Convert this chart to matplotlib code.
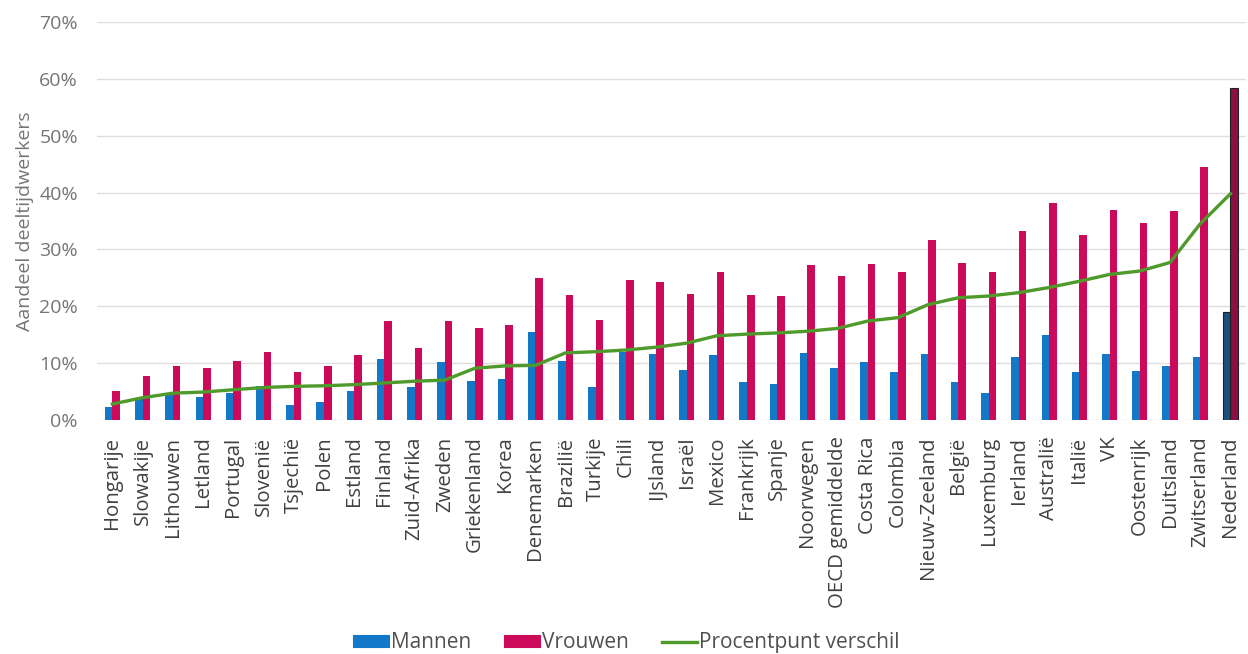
import numpy as np
import matplotlib.pyplot as plt
from matplotlib.ticker import PercentFormatter

plt.rcParams['font.family'] = ['Open Sans', 'DejaVu Sans']

countries = ["Hongarije", "Slowakije", "Lithouwen", "Letland", "Portugal", "Slovenië",
             "Tsjechië", "Polen", "Estland", "Finland", "Zuid-Afrika", "Zweden",
             "Griekenland", "Korea", "Denemarken", "Brazilië", "Turkije", "Chili",
             "IJsland", "Israël", "Mexico", "Frankrijk", "Spanje", "Noorwegen",
             "OECD gemiddelde", "Costa Rica", "Colombia", "Nieuw-Zeeland", "België",
             "Luxemburg", "Ierland", "Australië", "Italië", "VK", "Oostenrijk",
             "Duitsland", "Zwitserland", "Nederland"]

mannen = [2.2, 3.8, 4.4, 4.1, 4.7, 6.0, 2.6, 3.2, 5.0, 10.8, 5.7, 10.2,
          6.9, 7.2, 15.5, 10.4, 5.7, 11.9, 11.6, 8.8, 11.4, 6.7, 6.4, 11.7,
          9.2, 10.1, 8.4, 11.6, 6.6, 4.7, 11.0, 14.9, 8.4, 11.6, 8.6,
          9.5, 11.1, 19.0]

vrouwen = [5.0, 7.8, 9.4, 9.2, 10.4, 11.9, 8.5, 9.4, 11.5, 17.4, 12.6, 17.4,
           16.1, 16.7, 25.0, 21.9, 17.5, 24.7, 24.3, 22.1, 26.1, 21.9, 21.8, 27.3,
           25.3, 27.4, 26.1, 31.6, 27.7, 26.1, 33.2, 38.1, 32.5, 36.9, 34.7,
           36.7, 44.6, 58.5]

verschil = [2.8, 3.9, 4.7, 4.9, 5.3, 5.7, 5.9, 6.0, 6.2, 6.5, 6.8, 7.0,
            9.1, 9.5, 9.6, 11.8, 12.0, 12.3, 12.8, 13.5, 14.8, 15.1, 15.3, 15.6,
            16.1, 17.4, 18.0, 20.3, 21.5, 21.8, 22.4, 23.3, 24.4, 25.6, 26.2,
            27.7, 34.5, 39.8]

BLUE = "#1478c8"
RED = "#cc0a5a"
GREEN = "#4e9a2a"

fig, ax = plt.subplots(figsize=(12.48, 6.54), dpi=100)
fig.subplots_adjust(left=0.078, right=0.998, top=0.966, bottom=0.358)

x = np.arange(len(countries))
w = 0.25
# Nederland gets darker, outlined bars
blue_cols = [BLUE] * (len(x) - 1) + ["#1b4f7c"]
red_cols = [RED] * (len(x) - 1) + ["#8a0f45"]
edge = ["none"] * (len(x) - 1) + ["#222222"]

ax.bar(x - w / 2, mannen, w, color=blue_cols, edgecolor=edge, linewidth=0.8,
       label="Mannen", zorder=2)
ax.bar(x + w / 2, vrouwen, w, color=red_cols, edgecolor=edge, linewidth=0.8,
       label="Vrouwen", zorder=2)
ax.plot(x, verschil, color=GREEN, linewidth=2.4, label="Procentpunt verschil", zorder=3)

ax.set_xlim(-0.5, len(x) - 0.5)
ax.set_ylim(0, 70)
ax.set_yticks(range(0, 71, 10))
ax.yaxis.set_major_formatter(PercentFormatter(decimals=0))
ax.set_xticks(x)
ax.set_xticklabels(countries, rotation=90, fontsize=14.7, color="#404040")
ax.tick_params(axis="y", labelsize=14, labelcolor="#757575", length=0, pad=14)
ax.tick_params(axis="x", length=0, pad=12)
ax.grid(axis="y", color="#dedede", linewidth=1)
ax.set_axisbelow(True)
for s in ax.spines.values():
    s.set_visible(False)
ax.set_ylabel("Aandeel deeltijdwerkers", fontsize=14, color="#757575")
ax.yaxis.set_label_coords(-0.055, 0.5)

handles, labels = ax.get_legend_handles_labels()
order = [1, 2, 0]
leg = fig.legend([handles[i] for i in order], [labels[i] for i in order],
                 loc="center", bbox_to_anchor=(0.502, 0.017), ncol=3,
                 frameon=False, fontsize=15, handlelength=1.7, handleheight=0.5,
                 handletextpad=0.1, columnspacing=1.6)
for t in leg.get_texts():
    t.set_color("#505050")
leg.legend_handles[0].set_color(BLUE)
leg.legend_handles[1].set_color(RED)

fig.savefig("out.png", dpi=100)
